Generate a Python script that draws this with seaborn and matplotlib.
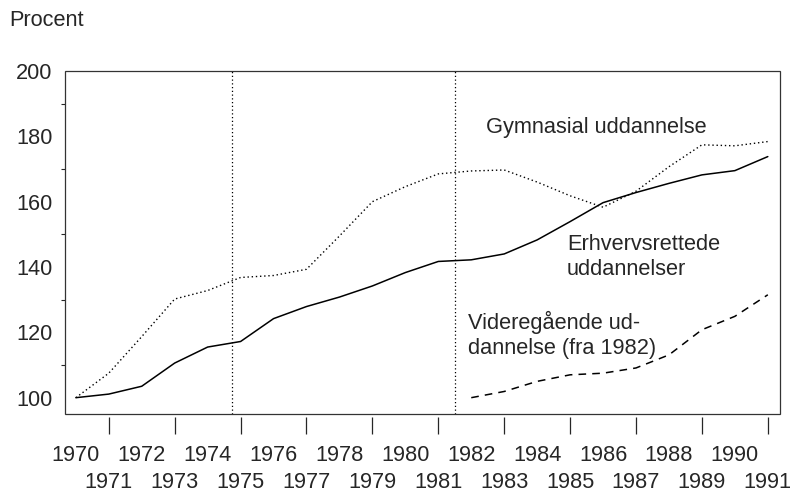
import matplotlib
matplotlib.use("Agg")
import matplotlib.pyplot as plt
from matplotlib.patches import Rectangle
from matplotlib.ticker import MultipleLocator
import pandas as pd
import seaborn as sns

# Indeks (1970 = 100) for tilgangen til uddannelserne
years = list(range(1970, 1992))
gymnasial = [100, 107.5, 118.7, 130.2, 132.8, 136.8, 137.4, 139.3, 149.5, 160.0, 164.6,
             168.5, 169.4, 169.7, 166.0, 161.8, 158.3, 163.2, 170.7, 177.4, 177.1, 178.4]
erhverv = [100, 101.1, 103.5, 110.6, 115.5, 117.2, 124.2, 127.9, 130.8, 134.2, 138.3,
           141.7, 142.2, 144.0, 148.3, 153.9, 159.7, 162.8, 165.6, 168.2, 169.5, 173.8]
vid_years = list(range(1982, 1992))
videregaaende = [100, 101.9, 105.0, 107.0, 107.5, 109.1, 113.1, 120.8, 124.9, 131.5]
skift_aar = [1974.75, 1981.5]

sns.set_style("white")
plt.rcParams['font.family'] = ['Liberation Sans', 'DejaVu Sans']
FS = 15.7

fig = plt.figure(figsize=(8.01, 4.92), dpi=100)
ax = fig.add_axes([0.0811, 0.1585, 0.8927, 0.6972])

df_a = pd.DataFrame({'aar': years, 'gym': gymnasial, 'erh': erhverv})
df_b = pd.DataFrame({'aar': vid_years, 'vid': videregaaende})

sns.lineplot(data=df_a, x='aar', y='gym', ax=ax, color='black', lw=1.0,
             linestyle=(0, (1, 2)))
sns.lineplot(data=df_a, x='aar', y='erh', ax=ax, color='black', lw=1.1)
sns.lineplot(data=df_b, x='aar', y='vid', ax=ax, color='black', lw=1.1,
             linestyle=(0, (5, 4)))

for xv in skift_aar:
    ax.axvline(xv, color='black', lw=0.9, linestyle=(0, (1, 2)))

ax.set_xlim(1969.67, 1991.37)
ax.set_ylim(95, 200)

# y-akse: store og små streger
ax.yaxis.set_major_locator(MultipleLocator(20))
ax.yaxis.set_minor_locator(MultipleLocator(10))
ax.tick_params(axis='y', which='major', length=6, width=0.8, pad=3, labelsize=FS)
ax.tick_params(axis='y', which='minor', length=3, width=0.8, left=True)

# x-akse: lige år i første række, ulige år i anden række
ax.set_xticks([y for y in years if y % 2 == 0])
ax.set_xticks([y for y in years if y % 2 == 1], minor=True)
ax.set_xticklabels([str(y) for y in years if y % 2 == 0])
ax.set_xticklabels([str(y) for y in years if y % 2 == 1], minor=True)
ax.tick_params(axis='x', which='major', length=12.5, width=0.9, pad=7, labelsize=FS)
ax.tick_params(axis='x', which='minor', length=12.5, width=0.9, pad=27, labelsize=FS,
               bottom=True)
ax.spines['bottom'].set_position(('outward', 2.5))
ax.spines['bottom'].set_visible(False)

for s in ['top', 'right', 'left']:
    ax.spines[s].set_visible(False)
ax.add_patch(Rectangle((0, 0), 1, 1, transform=ax.transAxes, fill=False,
                       edgecolor='#333333', lw=0.9, clip_on=False))

ax.set_xlabel('')
ax.set_ylabel('')
fig.text(0.011, 0.958, 'Procent', fontsize=FS, va='center', ha='left')

ax.text(1982.44, 182.6, 'Gymnasial uddannelse', fontsize=FS, va='center', ha='left')
ax.text(1984.9, 143.0, 'Erhvervsrettede\nuddannelser', fontsize=FS, va='center',
        ha='left', linespacing=1.25)
ax.text(1981.9, 119.1, 'Videregående ud-\ndannelse (fra 1982)', fontsize=FS,
        va='center', ha='left', linespacing=1.25)

fig.savefig('out.png', dpi=100)
